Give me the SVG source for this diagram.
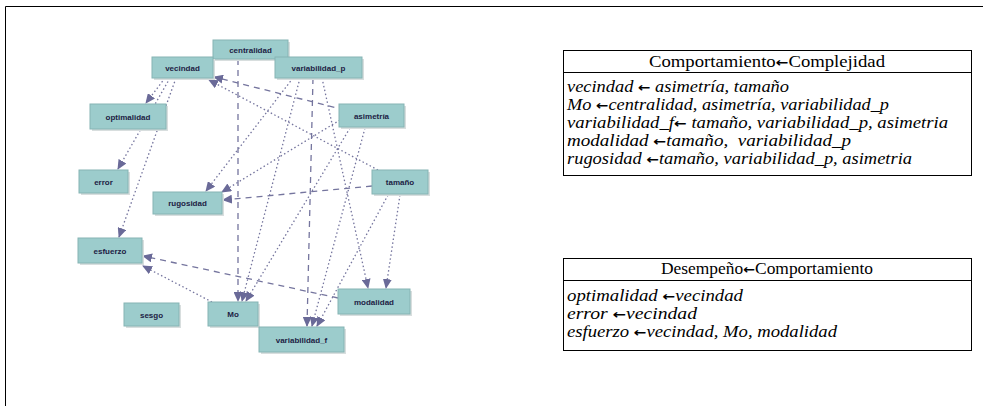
<svg xmlns="http://www.w3.org/2000/svg" width="983" height="406" viewBox="0 0 983 406">
<defs>
<style>
.frame{stroke:#000;stroke-width:1;fill:none}
.nb{fill:#9ccccc;stroke:#86b4b4;stroke-width:1}
.sh{fill:#d8dede}
.nt{font-family:"Liberation Sans",Arial,sans-serif;font-size:8px;font-weight:bold;fill:#1c1c44;text-anchor:middle}
.e{fill:none;stroke:#75759e;stroke-width:1.3;marker-end:url(#ah)}
.dot{stroke-dasharray:1.5,2.5}
.dash{stroke-dasharray:6,5}
.tb{fill:#fff;stroke:#000;stroke-width:1}
.th{font-family:"Liberation Serif","Times New Roman",serif;font-size:16px;fill:#000;text-anchor:middle}
.tr{font-family:"Liberation Serif","Times New Roman",serif;font-size:16px;font-style:italic;fill:#000}
.ar{font-family:"DejaVu Sans",sans-serif;font-style:normal;font-weight:bold;font-size:13px}
</style>
<marker id="ah" markerWidth="10" markerHeight="9" refX="9" refY="4.5" orient="auto" markerUnits="userSpaceOnUse">
<path d="M0,0 L10,4.5 L0,9 z" fill="#6a6a98"/>
</marker>
</defs>
<rect width="983" height="406" fill="#fff"/>
<path class="frame" d="M5.5,406 L5.5,6.5 L983,6.5"/>

<g id="connectors">
<line class="e dash" x1="345" y1="110" x2="214" y2="77"/>
<line class="e dot" x1="378" y1="170" x2="209" y2="80"/>
<line class="e dot" x1="350" y1="128" x2="246" y2="301"/>
<line class="e dot" x1="365" y1="128" x2="312" y2="326"/>
<line class="e dot" x1="340" y1="120" x2="222" y2="192"/>
<line class="e dot" x1="388" y1="195" x2="317" y2="326"/>
<line class="e dot" x1="400" y1="195" x2="386" y2="288"/>
<line class="e dash" x1="372" y1="186" x2="223" y2="200"/>
<line class="e dash" x1="238" y1="59" x2="238" y2="301"/>
<line class="e dot" x1="300" y1="78" x2="242" y2="301"/>
<line class="e dash" x1="313" y1="78" x2="307" y2="326"/>
<line class="e dot" x1="322" y1="78" x2="368" y2="288"/>
<line class="e dot" x1="293" y1="78" x2="206" y2="191"/>
<line class="e dot" x1="165" y1="78" x2="146" y2="103"/>
<line class="e dot" x1="170" y1="78" x2="118" y2="169"/>
<line class="e dot" x1="176" y1="78" x2="119" y2="237"/>
<line class="e dot" x1="212" y1="302" x2="143" y2="266"/>
<line class="e dash" x1="338" y1="298" x2="143" y2="256"/>
</g>

<g id="centralidad"><rect class="sh" x="215" y="42" width="75" height="19"/><rect class="nb" x="213" y="40" width="75" height="19"/><text class="nt" x="250.5" y="52.5">centralidad</text></g>
<g id="vecindad"><rect class="sh" x="154" y="59" width="61" height="21"/><rect class="nb" x="152" y="57" width="61" height="21"/><text class="nt" x="182.5" y="70.5">vecindad</text></g>
<g id="variabilidad_p"><rect class="sh" x="277" y="59" width="87" height="21"/><rect class="nb" x="275" y="57" width="87" height="21"/><text class="nt" x="318.5" y="70.5">variabilidad_p</text></g>
<g id="optimalidad"><rect class="sh" x="92" y="106" width="76" height="25"/><rect class="nb" x="90" y="104" width="76" height="25"/><text class="nt" x="128" y="119.5">optimalidad</text></g>
<g id="asimetria"><rect class="sh" x="341" y="106" width="65" height="23"/><rect class="nb" x="339" y="104" width="65" height="23"/><text class="nt" x="371.5" y="118.5">asimetría</text></g>
<g id="error"><rect class="sh" x="81" y="172" width="49" height="23"/><rect class="nb" x="79" y="170" width="49" height="23"/><text class="nt" x="103.5" y="184.5">error</text></g>
<g id="tamano"><rect class="sh" x="374" y="172" width="56" height="24"/><rect class="nb" x="372" y="170" width="56" height="24"/><text class="nt" x="400" y="185">tamaño</text></g>
<g id="rugosidad"><rect class="sh" x="155" y="194" width="69" height="22"/><rect class="nb" x="153" y="192" width="69" height="22"/><text class="nt" x="187.5" y="206">rugosidad</text></g>
<g id="esfuerzo"><rect class="sh" x="80" y="240" width="64" height="25"/><rect class="nb" x="78" y="238" width="64" height="25"/><text class="nt" x="110" y="253.5">esfuerzo</text></g>
<g id="sesgo"><rect class="sh" x="126" y="305" width="55" height="23"/><rect class="nb" x="124" y="303" width="55" height="23"/><text class="nt" x="151.5" y="317.5">sesgo</text></g>
<g id="Mo"><rect class="sh" x="210" y="304" width="50" height="24"/><rect class="nb" x="208" y="302" width="50" height="24"/><text class="nt" x="233" y="317">Mo</text></g>
<g id="modalidad"><rect class="sh" x="340" y="291" width="72" height="25"/><rect class="nb" x="338" y="289" width="72" height="25"/><text class="nt" x="374" y="304.5">modalidad</text></g>
<g id="variabilidad_f"><rect class="sh" x="261" y="329" width="85" height="25"/><rect class="nb" x="259" y="327" width="85" height="25"/><text class="nt" x="301.5" y="342.5">variabilidad_f</text></g>

<g id="tabla1">
<rect class="tb" x="563.5" y="50.5" width="408" height="125"/>
<line class="tb" x1="563.5" y1="72.5" x2="971.5" y2="72.5"/>
<text class="th" x="767" y="67" textLength="236" lengthAdjust="spacingAndGlyphs">Comportamiento<tspan class="ar">←</tspan>Complejidad</text>
<text class="tr" x="567" y="92" textLength="222" lengthAdjust="spacingAndGlyphs">vecindad <tspan class="ar">←</tspan> asimetría, tamaño</text>
<text class="tr" x="567" y="110" textLength="322" lengthAdjust="spacingAndGlyphs">Mo <tspan class="ar">←</tspan>centralidad, asimetría, variabilidad_p</text>
<text class="tr" x="567" y="128" textLength="381" lengthAdjust="spacingAndGlyphs">variabilidad_f<tspan class="ar">←</tspan> tamaño, variabilidad_p, asimetria</text>
<text class="tr" x="567" y="146" textLength="284" lengthAdjust="spacingAndGlyphs" xml:space="preserve">modalidad <tspan class="ar">←</tspan>tamaño,  variabilidad_p</text>
<text class="tr" x="567" y="164" textLength="345" lengthAdjust="spacingAndGlyphs">rugosidad <tspan class="ar">←</tspan>tamaño, variabilidad_p, asimetria</text>
</g>
<g id="tabla2">
<rect class="tb" x="563.5" y="258.5" width="408" height="92"/>
<line class="tb" x1="563.5" y1="280.5" x2="971.5" y2="280.5"/>
<text class="th" x="767" y="274" textLength="212" lengthAdjust="spacingAndGlyphs">Desempeño<tspan class="ar">←</tspan>Comportamiento</text>
<text class="tr" x="567" y="301" textLength="176" lengthAdjust="spacingAndGlyphs">optimalidad <tspan class="ar">←</tspan>vecindad</text>
<text class="tr" x="567" y="319" textLength="130" lengthAdjust="spacingAndGlyphs">error <tspan class="ar">←</tspan>vecindad</text>
<text class="tr" x="567" y="337" textLength="270" lengthAdjust="spacingAndGlyphs">esfuerzo <tspan class="ar">←</tspan>vecindad, Mo, modalidad</text>
</g>
</svg>
